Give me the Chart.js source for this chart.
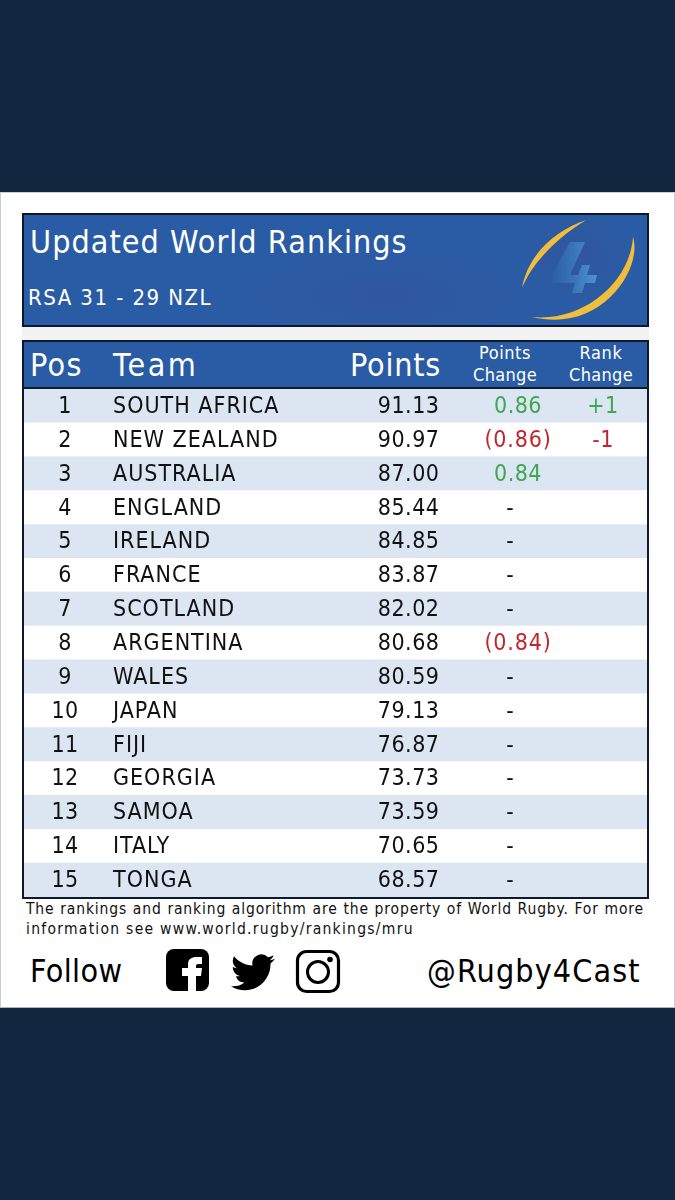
<!DOCTYPE html>
<html><head><meta charset="utf-8">
<script src="https://cdn.jsdelivr.net/npm/chart.js@4"></script>
<style>
html,body{margin:0;padding:0;width:675px;height:1200px;background:#12263f;overflow:hidden}
*{box-sizing:border-box}
body{font-family:"DejaVu Sans Condensed","DejaVu Sans",sans-serif;font-stretch:condensed;position:relative}
.abs{position:absolute;white-space:nowrap;line-height:1}
#panel{position:absolute;left:0;top:192px;width:675px;height:816px;background:#fff;border:1px solid #c9ced4;border-bottom:1px solid #aeb5bd}
#gap{position:absolute;left:22px;top:327px;width:627px;height:13px;background:#f2f2f3}
#banner{position:absolute;left:22px;top:213px;width:627px;height:114px;border:2px solid #0c1a2c;overflow:hidden;
 background:radial-gradient(ellipse 160px 50px at 58% 74%,rgba(72,62,130,.18),rgba(72,62,130,0)),radial-gradient(ellipse 60px 50px at 89% 40%,rgba(72,62,130,.2),rgba(72,62,130,0)),#2a5ca5}
#frame{position:absolute;left:22px;top:340px;width:627px;height:559px;border:2px solid #0c1a2c;background:#fff}
#head{position:absolute;left:24px;top:342px;width:623px;height:47px;background:#2a5ca6;border-bottom:2px solid #0c1a2c}
.w{color:#fff}
#chart{position:absolute;left:24px;top:389px;display:block}
#note{position:absolute;left:26px;top:899px;width:618px;font-size:15.5px;line-height:20px;color:#111;letter-spacing:1.27px;white-space:nowrap}
#note .l1{display:block;white-space:normal;text-align:justify;text-align-last:justify;letter-spacing:.85px}
svg{position:absolute;display:block}
</style></head><body>
<div id="panel"></div>
<div id="gap"></div>
<div id="banner"></div>
<svg style="left:510px;top:218px" width="132" height="106" viewBox="0 0 132 106">
 <defs><linearGradient id="g4" x1="0" x2="1" y1="0" y2="0"><stop offset="0" stop-color="#2a5ca5"/><stop offset=".5" stop-color="#3a74b6"/><stop offset="1" stop-color="#4a94d4"/></linearGradient></defs>
 <path fill="url(#g4)" d="M60 24 L75 24 L60 57 L68 57 L72 47 L80 47 L77 57 L87 57 L85 65 L75 65 L72 75 L62 75 L65 65 L40 65 L40 60Z"/>
 <path fill="#f0bd3c" d="M76 2 C46 12 18 36 12 70 C22 46 44 22 76 2Z"/>
 <path fill="#f0bd3c" d="M123 19 C133 50 92 116 22 99 C74 104 120 64 123 19Z"/>
</svg>
<div class="abs w" style="left:30px;top:226px;font-size:32px;letter-spacing:1.05px">Updated World Rankings</div>
<div class="abs w" style="left:28px;top:287px;font-size:22px;letter-spacing:1.45px">RSA 31 - 29 NZL</div>
<div id="frame"></div>
<div id="head"></div>
<div class="abs w" style="left:30px;top:349px;font-size:32px;letter-spacing:1.3px">Pos</div>
<div class="abs w" style="left:113px;top:349px;font-size:32px;letter-spacing:2.4px">Team</div>
<div class="abs w" style="left:350px;top:349px;font-size:32px;letter-spacing:.8px">Points</div>
<div class="abs w" style="left:445px;width:120px;text-align:center;top:344px;font-size:18px;letter-spacing:.6px">Points</div>
<div class="abs w" style="left:445px;width:120px;text-align:center;top:366px;font-size:18px;letter-spacing:.3px">Change</div>
<div class="abs w" style="left:541px;width:120px;text-align:center;top:344px;font-size:18px;letter-spacing:.6px">Rank</div>
<div class="abs w" style="left:541px;width:120px;text-align:center;top:366px;font-size:18px;letter-spacing:.3px">Change</div>
<canvas id="chart" width="623" height="508"></canvas>
<div id="note"><span class="l1">The rankings and ranking algorithm are the property of World Rugby. For more</span>information see www.world.rugby/rankings/mru</div>
<div class="abs" style="left:30px;top:955px;font-size:32px;color:#000;letter-spacing:.35px">Follow</div>
<svg style="left:165px;top:948px" width="45" height="44" viewBox="0 0 45 44"><rect x="1" y="1" width="43" height="42" rx="8" fill="#000"/><path fill="#fff" d="M23 43V28H17V20H23V16C23 11 27 9 31 9H37V16H33C31.5 16 31 17 31 18V20H37L36 28H31V43Z"/></svg>
<svg style="left:231px;top:954px" width="44" height="38" viewBox="0 0 24 20.7"><path fill="#000" transform="translate(0,-2)" d="M23.953 4.57a10 10 0 01-2.825.775 4.958 4.958 0 002.163-2.723c-.951.555-2.005.959-3.127 1.184a4.92 4.92 0 00-8.384 4.482C7.69 8.095 4.067 6.13 1.64 3.162a4.822 4.822 0 00-.666 2.475c0 1.71.87 3.213 2.188 4.096a4.904 4.904 0 01-2.228-.616v.06a4.923 4.923 0 003.946 4.827 4.996 4.996 0 01-2.212.085 4.936 4.936 0 004.604 3.417 9.867 9.867 0 01-6.102 2.105c-.39 0-.779-.023-1.17-.067a13.995 13.995 0 007.557 2.209c9.053 0 13.998-7.496 13.998-13.985 0-.21 0-.42-.015-.63A9.935 9.935 0 0024 4.59z"/></svg>
<svg style="left:295px;top:949px" width="46" height="45" viewBox="0 0 46 45"><rect x="2.5" y="2.5" width="41" height="40" rx="9" fill="none" stroke="#000" stroke-width="3.2"/><circle cx="23" cy="23" r="10.5" fill="none" stroke="#000" stroke-width="3"/><circle cx="35" cy="10.5" r="2.8" fill="#000"/></svg>
<div class="abs" style="left:427px;top:955px;font-size:32px;color:#000;letter-spacing:1.1px">@Rugby4Cast</div>
<script>
const teams=["SOUTH AFRICA","NEW ZEALAND","AUSTRALIA","ENGLAND","IRELAND","FRANCE","SCOTLAND","ARGENTINA","WALES","JAPAN","FIJI","GEORGIA","SAMOA","ITALY","TONGA"];
const positions=[1,2,3,4,5,6,7,8,9,10,11,12,13,14,15];
const points=[91.13,90.97,87.00,85.44,84.85,83.87,82.02,80.68,80.59,79.13,76.87,73.73,73.59,70.65,68.57];
const pointsChange=[0.86,-0.86,0.84,null,null,null,null,-0.84,null,null,null,null,null,null,null];
const rankChange=[1,-1,null,null,null,null,null,null,null,null,null,null,null,null,null];
const rowSpan=teams.map(()=>100);
const FONT='condensed 23px "DejaVu Sans Condensed","DejaVu Sans",sans-serif';
const GREEN='#3fa652',RED='#c4252b',INK='#111';
const table={id:'table',afterDatasetsDraw(c){
  const g=c.ctx,y=c.scales.y;g.save();g.font=FONT;g.textBaseline='middle';
  const put=(t,x,py,al,col,ls)=>{g.letterSpacing=ls+'px';g.textAlign=al;g.fillStyle=col;g.fillText(t,x,py);};
  teams.forEach((t,i)=>{
    const py=y.getPixelForValue(i)+1;
    put(String(positions[i]),41,py,'center',INK,.4);
    put(t,89,py,'left',INK,1.0);
    put(points[i].toFixed(2),415.5,py,'right',INK,.5);
    const d=pointsChange[i];
    if(d===null)put('-',486,py,'center',INK,0);
    else if(d>0)put(d.toFixed(2),494,py,'center',GREEN,.5);
    else put('('+Math.abs(d).toFixed(2)+')',494,py,'center',RED,.8);
    const r=rankChange[i];
    if(r!==null)put((r>0?'+':'-')+Math.abs(r),579,py,'center',r>0?GREEN:RED,.5);
  });
  g.restore();
}};
new Chart(document.getElementById('chart'),{
  type:'bar',
  data:{labels:teams,datasets:[
    {label:'Points',data:points,backgroundColor:'rgba(0,0,0,0)',borderWidth:0,order:1},
    {label:'Row',data:rowSpan,backgroundColor:teams.map((_,i)=>i%2?'#ffffff':'#dce6f2'),borderWidth:0,order:2}
  ]},
  options:{indexAxis:'y',responsive:false,animation:false,
    layout:{padding:0},
    datasets:{bar:{grouped:false,barPercentage:1,categoryPercentage:1}},
    plugins:{legend:{display:false},title:{display:false},tooltip:{enabled:false}},
    scales:{x:{display:false,min:0,max:100},y:{display:false,offset:true}}},
  plugins:[table]
});
</script>
</body></html>
